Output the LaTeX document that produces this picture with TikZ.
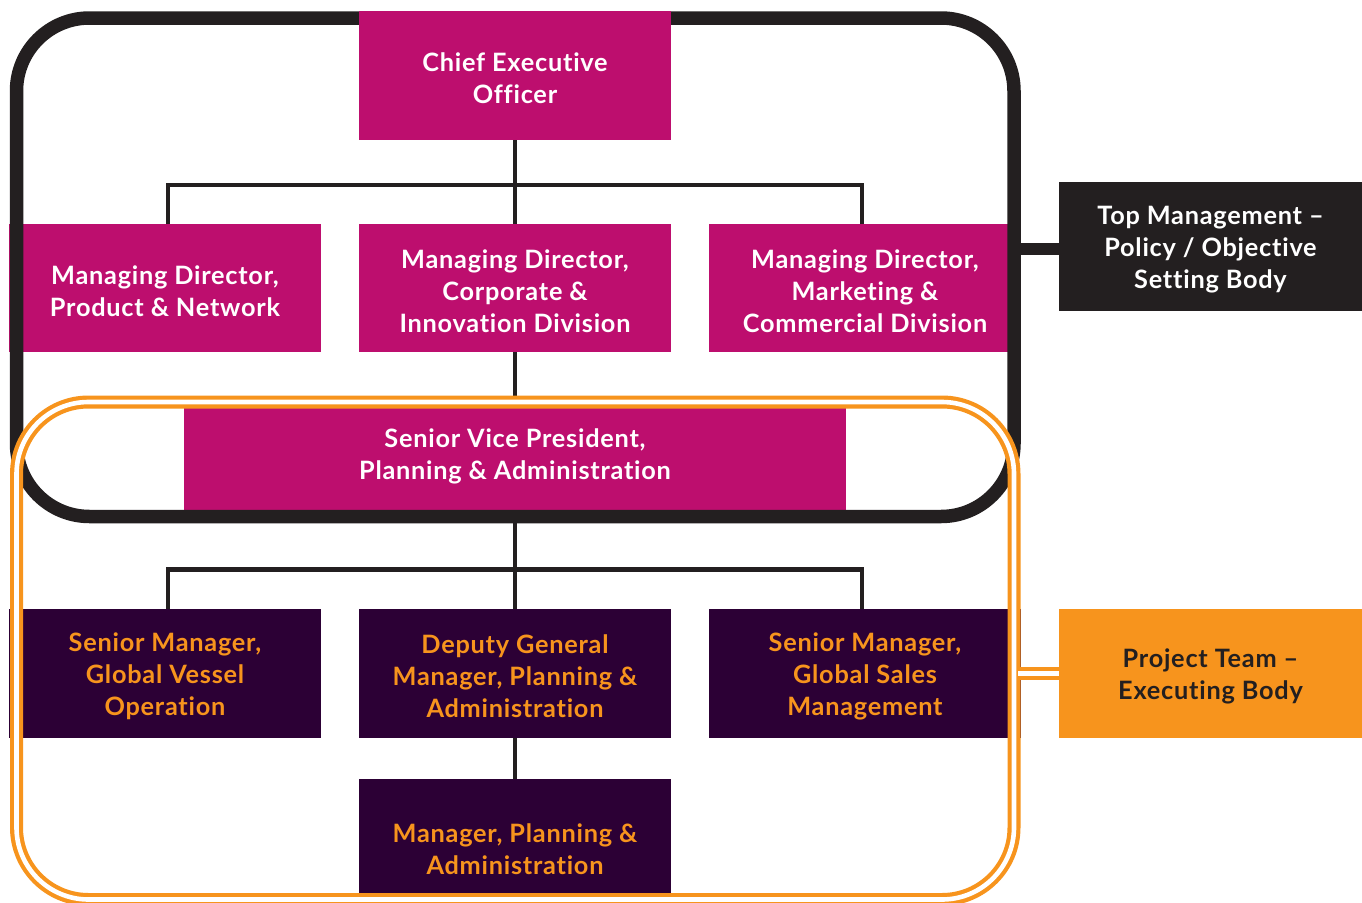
\documentclass[tikz,border=0pt]{standalone}
\usepackage{fontspec}
\setmainfont{Lato}[Ligatures=CommonOff,LetterSpace=3]
\definecolor{mag}{HTML}{BD0E6E}
\definecolor{dpur}{HTML}{2C0035}
\definecolor{org}{HTML}{F7941D}
\definecolor{blk}{HTML}{231F20}
\begin{document}
\begin{tikzpicture}[x=1pt,y=-1pt,
  box/.style={rectangle,inner sep=0pt,minimum width=312pt,minimum height=128pt},
  txt/.style={align=center,inner sep=0pt,yshift=-3pt,font=\fontsize{25.3}{32}\selectfont\bfseries},
  magbox/.style={box,fill=mag},
  purbox/.style={box,fill=dpur},
  wtxt/.style={txt,text=white},
  otxt/.style={txt,text=org},
  link/.style={draw=blk,line width=4.5pt},
  frame/.style={draw=blk,line width=13.5pt,rounded corners=73pt},
  oframe/.style={draw=org,line width=4.2pt,double=white,double distance=4.6pt,rounded corners=72pt}]
\useasboundingbox (0,0) rectangle (1362,902);
\fill[white] (0,0) rectangle (1362,902);
% boxes under the frame
\node[magbox,label={[wtxt]center:{Managing Director,\\Product \& Network}}] (mdl) at (165,288) {};
\node[magbox,label={[wtxt]center:{Managing Director,\\Corporate \&\\Innovation Division}}] (mdm) at (515,288) {};
\node[magbox,label={[wtxt]center:{Managing Director,\\Marketing \&\\Commercial Division}}] (mdr) at (865,288) {};
\node[magbox,minimum width=662pt,minimum height=113pt,label={[wtxt]center:{Senior Vice President,\\Planning \& Administration}}] (svp) at (515,453.5) {};
\node[purbox,minimum height=129pt,label={[otxt]center:{Senior Manager,\\Global Vessel\\Operation}}] (sml) at (165,673.5) {};
\node[purbox,minimum height=129pt,label={[otxt]center:{Deputy General\\Manager, Planning \&\\Administration}}] (dgm) at (515,673.5) {};
\node[purbox,minimum height=129pt,label={[otxt]center:{Senior Manager,\\Global Sales\\Management}}] (smr) at (865,673.5) {};
\node[purbox,minimum height=134pt,label={[otxt]center:{Manager, Planning \&\\Administration}}] (mgr) at (515,846) {};
% connectors
\coordinate (j1) at (515,185);
\coordinate (j1l) at (168,185);
\coordinate (j1r) at (862,185);
\coordinate (j2) at (515,569.5);
\coordinate (j2l) at (168,569.5);
\coordinate (j2r) at (862,569.5);
% black frame
\draw[frame] (16.5,18) rectangle (1014,516.5);
\node[magbox,minimum height=129pt,label={[wtxt]center:{Chief Executive\\Officer}}] (ceo) at (515,75.5) {};
\draw[link] (ceo.south) -- (j1);
\draw[link] (j1l |- mdl.north) -- (j1l) -- (j1r) -- (j1r |- mdr.north);
\draw[link] (j1) -- (mdm.north);
\draw[link] (mdm.south) -- (svp.north);
\draw[link] (svp.south) -- (j2);
\draw[link] (j2l |- sml.north) -- (j2l) -- (j2r) -- (j2r |- smr.north);
\draw[link] (j2) -- (dgm.north);
\draw[link] (dgm.south) -- (mgr.north);
% orange frame
\draw[oframe] (16.5,402) rectangle (1014,899.5);
% side labels
\node[box,minimum width=303pt,minimum height=129pt,fill=blk,label={[wtxt]center:{Top Management –\\Policy / Objective\\Setting Body}}] (top) at (1210.5,246.5) {};
\node[box,minimum width=303pt,minimum height=129pt,fill=org,label={[txt,text=blk]center:{Project Team –\\Executing Body}}] (prj) at (1210.5,673.5) {};
\coordinate (fr) at (1014,249);
\draw[draw=blk,line width=12pt] (fr) -- (fr -| top.west);
\coordinate (or) at (1018,673.5);
\draw[draw=org,line width=4.2pt,double=white,double distance=4.6pt] (or) -- (or -| prj.west);
\end{tikzpicture}
\end{document}
